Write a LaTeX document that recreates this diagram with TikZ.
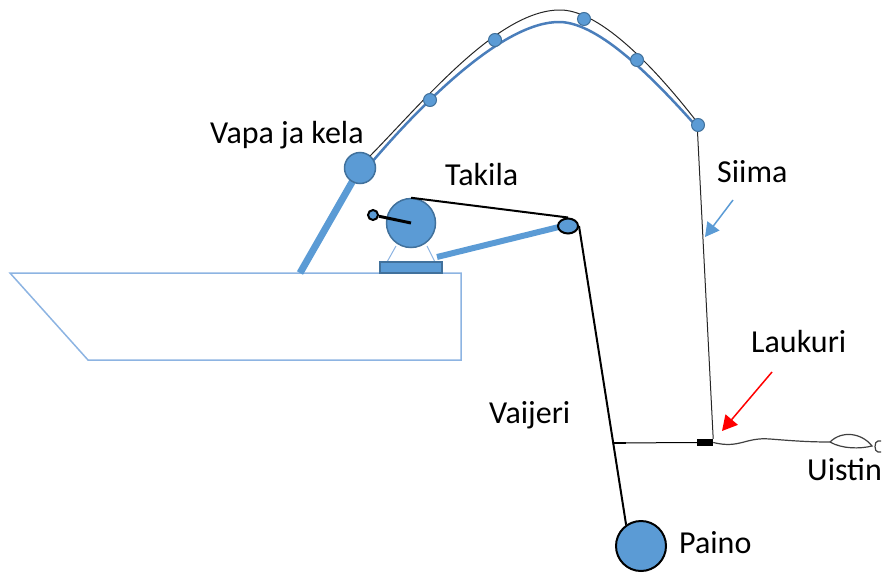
\documentclass[tikz,border=0pt]{standalone}
\usepackage{fontspec}
\setmainfont{Carlito}
\usetikzlibrary{arrows.meta,shapes.geometric,calc}

\definecolor{rodblue}{RGB}{91,155,213}
\definecolor{rimblue}{RGB}{65,113,156}
\definecolor{hullblue}{RGB}{141,180,226}
\definecolor{tipblue}{RGB}{74,126,187}

\tikzset{
  lbl/.style={font=\fontsize{32}{38}\selectfont, inner sep=0pt, anchor=base west},
  part/.style={fill=rodblue, draw=rimblue, line width=1.5pt, inner sep=0pt},
  guide/.style={circle, fill=rodblue, draw=rimblue, line width=1pt, minimum size=13pt, inner sep=0pt},
  wire/.style={black, line width=2pt},
}

\begin{document}
\begin{tikzpicture}[x=1pt,y=-1pt]
    \useasboundingbox (0,0) rectangle (883,573);

    % vene
    \draw[hullblue, line width=1.5pt] (10,273) -- (461,273) -- (461,360) -- (88,360) -- cycle;

    % vapa
    \draw[rodblue, line width=7pt] (300,273) -- (363,163);
    \draw[tipblue, line width=2.5pt] (372,162) .. controls (425,100) and (505,21) .. (560,22)
        .. controls (600,23) and (655,80) .. (697,127);
    \node[part, circle, minimum size=31pt] (kela) at (360,168) {};

    % takila
    \draw[hullblue, line width=1pt] (396,246) -- (387,262) (427,246) -- (435,262);
    \draw[rodblue, line width=6pt] (437,257) -- (567,225);
    \node[part, rectangle, line width=2pt, minimum width=62pt, minimum height=11pt] (jalka) at (411,267.5) {};
    \node[part, circle, minimum size=49pt] (rumpu) at (411,223) {};
    \node[circle, draw=black, line width=2pt, fill=rodblue, minimum size=10pt, inner sep=0pt] (nuppi) at (373,215) {};
    \draw[wire, line width=3pt] (rumpu.center) -- (nuppi);
    \node[ellipse, draw=black, line width=2pt, fill=rodblue, minimum width=20pt, minimum height=15pt, inner sep=0pt] (pyora) at (568,226) {};

    % vaijeri ja paino
    \node[circle, draw=black, line width=2pt, fill=rodblue, minimum size=50pt, inner sep=0pt] (paino) at (641,546) {};
    \draw[wire] (rumpu.north) -- (pyora.north);
    \draw[wire] (pyora.east) -- (paino.125);

    % laukuri
    \node[fill=black, minimum width=16pt, minimum height=7pt, inner sep=0pt] (laukuri) at (705,442.5) {};
    \coordinate (kiinnike) at (613,443);
    \draw[black, line width=1pt] (kiinnike) -- (laukuri.west);
    \draw[wire] (kiinnike) -- ++(13,0);

    % siima
    \draw[black!85, line width=1pt] (370,156) .. controls (425,100) and (500,8) .. (562,10)
        .. controls (602,12) and (655,68) .. (697,122) -- (laukuri.north east);
    \foreach \p [count=\i] in {(430,100),(495,40),(584,19),(637,60),(698,125)}
        \node[guide] (g\i) at \p {};

    % uistin
    \draw[black!75, line width=1.2pt] (laukuri.east) .. controls (740,449) and (745,437) .. (770,439)
        .. controls (795,441) and (810,442) .. (830,442);
    \draw[black!75, line width=1.2pt] (830,442) .. controls (842,430) and (862,433) .. (872,446)
        .. controls (860,449) and (842,449) .. (830,442);
    \draw[black!75, line width=1.2pt] (881,441) -- (878,441) .. controls (874,441) and (874,452) .. (878,452) -- (881,452);

    % tekstit
    \node[lbl] (vapa) at (210,143) {Vapa ja kela};
    \node[lbl] (takila) at (445,185) {Takila};
    \node[lbl] (siima) at (717,182) {Siima};
    \node[lbl] (laukuriteksti) at (751,352) {Laukuri};
    \node[lbl] (vaijeri) at (489,423) {Vaijeri};
    \node[lbl] (uistin) at (807,480) {Uistin};
    \node[lbl] (painoteksti) at (679,553) {Paino};

    % nuolet
    \coordinate (s1) at (733,200);
    \coordinate (s2) at (705,237);
    \coordinate (l1) at (772,372);
    \coordinate (l2) at (722,431);
    \draw[rodblue, line width=1.5pt, -{Triangle[length=14pt,width=15pt]}] (s1) -- (s2);
    \draw[red, line width=1.5pt, -{Triangle[length=15pt,width=16pt]}] (l1) -- (l2);
\end{tikzpicture}
\end{document}
